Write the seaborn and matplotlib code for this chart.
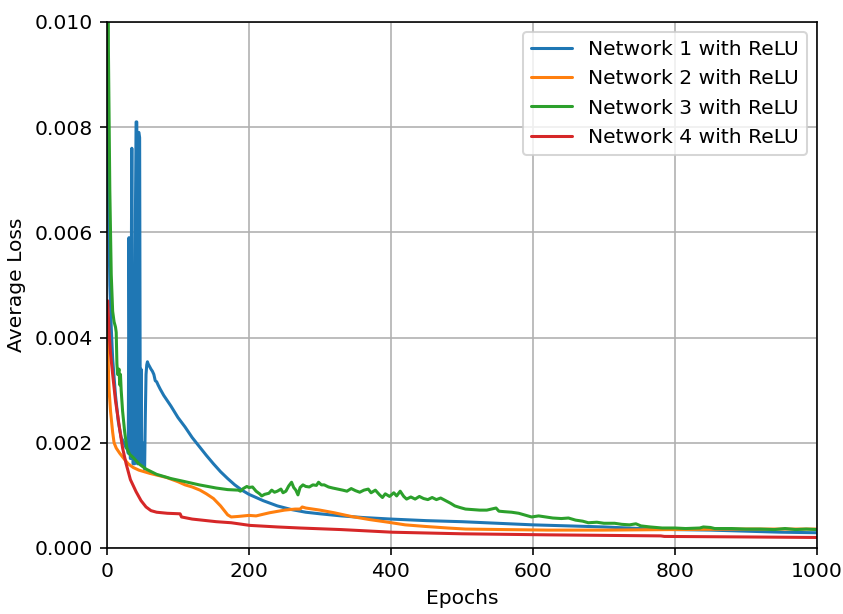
#!/usr/bin/python

import numpy as np
import matplotlib
matplotlib.use('Agg')
import matplotlib.pyplot as plt
import seaborn as sns

# ---------------------------------------------------------------- data
labels = ['Network 1 with ReLU', 'Network 2 with ReLU',
          'Network 3 with ReLU', 'Network 4 with ReLU']

net1_epochs = [0, 2, 4, 6, 8, 12, 16, 20, 24, 27, 29, 30, 31, 32, 33, 34, 35,
               36, 37, 38, 39, 40, 41, 42, 43, 44, 45, 46, 47, 48, 49, 50, 51,
               52, 53, 54, 55, 56, 57, 58, 60, 62, 64, 66, 68, 70, 72, 75, 80,
               90, 100, 110, 120, 130, 140, 150, 160, 170, 180, 190, 200, 220,
               240, 260, 280, 300, 330, 360, 400, 450, 500, 550, 600, 650, 700,
               750, 800, 850, 900, 950, 1000]
net1_loss = [0.0115, 0.0068, 0.0050, 0.0042, 0.0036, 0.0029, 0.0024, 0.0021,
             0.0020, 0.0019, 0.0019, 0.0018, 0.0059, 0.0034, 0.0017, 0.0045,
             0.0076, 0.0035, 0.0016, 0.0050, 0.0016, 0.0062, 0.0081, 0.0081,
             0.0016, 0.0079, 0.0079, 0.0078, 0.0016, 0.0034, 0.0016, 0.0020,
             0.0016, 0.0017, 0.0015, 0.0025, 0.0033, 0.00348, 0.00354, 0.0035,
             0.00345, 0.0034, 0.00336, 0.0033, 0.00318, 0.00316, 0.0031,
             0.00302, 0.0029, 0.0027, 0.00248, 0.0023, 0.0021, 0.00193,
             0.00176, 0.0016, 0.00145, 0.00132, 0.0012, 0.0011, 0.00102,
             0.0009, 0.0008, 0.00073, 0.00068, 0.00065, 0.00061, 0.00058,
             0.00055, 0.00052, 0.0005, 0.00047, 0.00044, 0.00042, 0.0004,
             0.00037, 0.00035, 0.00034, 0.00032, 0.0003, 0.00029]

net2_epochs = [0, 1, 2, 3, 5, 8, 10, 13, 18, 25, 30, 37, 45, 60, 84, 100, 110,
               120, 131, 140, 150, 160, 170, 175, 185, 200, 210, 229, 250, 265,
               272, 275, 280, 300, 320, 344, 370, 396, 420, 448, 480, 505, 560,
               621, 700, 794, 900, 1000]
net2_loss = [0.0045, 0.0040, 0.0034, 0.0030, 0.0026, 0.0022, 0.0020, 0.0019,
             0.0018, 0.00168, 0.0016, 0.00153, 0.00148, 0.00142, 0.00134,
             0.00126, 0.0012, 0.00116, 0.0011, 0.00103, 0.00094, 0.0008,
             0.00063, 0.00059, 0.0006, 0.00062, 0.00061, 0.00067, 0.00072,
             0.00074, 0.00074, 0.00078, 0.00076, 0.00072, 0.00067, 0.0006,
             0.00054, 0.00049, 0.00044, 0.00041, 0.00038, 0.00036, 0.00035,
             0.00034, 0.00034, 0.00035, 0.00036, 0.00036]

net3_epochs = [0, 2, 4, 6, 8, 10, 12, 13, 14, 15, 17, 18, 19, 20, 22, 25, 28,
               32, 37, 45, 55, 70, 90, 107, 130, 154, 170, 185, 188, 192, 197,
               200, 205, 210, 215, 218, 222, 228, 232, 236, 240, 245, 248, 252,
               256, 260, 263, 266, 269, 272, 276, 280, 285, 290, 295, 298, 302,
               306, 312, 318, 325, 332, 338, 344, 350, 356, 362, 368, 372, 378,
               384, 388, 392, 398, 404, 408, 413, 418, 422, 428, 434, 440, 446,
               452, 458, 464, 470, 477, 484, 490, 497, 505, 515, 525, 535, 548,
               552, 560, 570, 580, 590, 598, 608, 618, 628, 640, 650, 660, 670,
               678, 690, 700, 715, 725, 736, 745, 752, 765, 782, 800, 815, 835,
               840, 850, 856, 880, 900, 920, 940, 955, 970, 985, 1000]
net3_loss = [0.0200, 0.0095, 0.0068, 0.0052, 0.0045, 0.0043, 0.0042, 0.0041,
             0.0035, 0.0033, 0.0034, 0.0031, 0.0033, 0.0030, 0.0026, 0.0022,
             0.0019, 0.00178, 0.00172, 0.0016, 0.0015, 0.0014, 0.00132,
             0.00127, 0.0012, 0.00114, 0.00111, 0.0011, 0.00108, 0.00113,
             0.00117, 0.00115, 0.00116, 0.00108, 0.00103, 0.00099, 0.00102,
             0.00104, 0.0011, 0.00106, 0.00108, 0.00112, 0.00105, 0.00108,
             0.00118, 0.00125, 0.00115, 0.0011, 0.00101, 0.00115, 0.0012,
             0.00117, 0.00116, 0.0012, 0.00119, 0.00125, 0.0012, 0.0012,
             0.00116, 0.00114, 0.00112, 0.0011, 0.00108, 0.00113, 0.00109,
             0.00106, 0.0011, 0.00112, 0.00105, 0.0011, 0.00101, 0.00096,
             0.00103, 0.00098, 0.00105, 0.00099, 0.00108, 0.00098, 0.00093,
             0.00097, 0.00093, 0.00098, 0.00094, 0.00092, 0.00096, 0.00092,
             0.00095, 0.0009, 0.00085, 0.0008, 0.00077, 0.00074, 0.00073,
             0.00072, 0.00072, 0.00076, 0.0007, 0.00069, 0.00068, 0.00066,
             0.00062, 0.00059, 0.00061, 0.00059, 0.00057, 0.00056, 0.00057,
             0.00053, 0.00051, 0.00048, 0.00049, 0.00047, 0.00047, 0.00045,
             0.00044, 0.00046, 0.00042, 0.0004, 0.00038, 0.00038, 0.00037,
             0.00038, 0.0004, 0.00039, 0.00037, 0.00037, 0.00036, 0.00036,
             0.00035, 0.00037, 0.00035, 0.00036, 0.00035]

net4_epochs = [0, 1, 3, 5, 8, 12, 18, 22, 27, 33, 41, 48, 55, 62, 70, 85, 103,
               105, 120, 154, 175, 201, 240, 272, 330, 402, 500, 621, 700, 780,
               785, 900, 1000]
net4_loss = [0.0047, 0.0047, 0.0041, 0.0037, 0.0033, 0.0028, 0.00225, 0.0019,
             0.0016, 0.0013, 0.00107, 0.0009, 0.00078, 0.00071, 0.00068,
             0.00066, 0.00065, 0.00059, 0.00055, 0.0005, 0.00048, 0.00043,
             0.0004, 0.00038, 0.00035, 0.0003, 0.00027, 0.00025, 0.00024,
             0.00023, 0.00022, 0.00021, 0.0002]

series = [(net1_epochs, net1_loss), (net2_epochs, net2_loss),
          (net3_epochs, net3_loss), (net4_epochs, net4_loss)]

# ---------------------------------------------------------------- plot
sns.set_style('ticks')
plt.rcParams['font.family'] = ['DejaVu Sans']
plt.rcParams.update({'text.color': 'black', 'axes.labelcolor': 'black',
                     'xtick.color': 'black', 'ytick.color': 'black'})

DPI = 146
fig = plt.figure(figsize=(843 / DPI, 614 / DPI), dpi=DPI)
ax = fig.add_axes([0.1269, 0.1075, 0.8422, 0.8567])

colors = sns.color_palette('tab10', 4)
for (xs, ys), lab, col in zip(series, labels, colors):
    sns.lineplot(x=xs, y=ys, ax=ax, color=col, label=lab,
                 linewidth=1.5, estimator=None, sort=False)

ax.set_xlim(0, 1000)
ax.set_ylim(0, 0.010)
ax.set_yticks(np.arange(0, 0.0101, 0.002))
ax.set_yticklabels(['%.3f' % v for v in np.arange(0, 0.0101, 0.002)])
ax.set_xlabel('Epochs')
ax.set_ylabel('Average Loss')
ax.grid(True, color='#b0b0b0', linewidth=0.8)
for sp in ax.spines.values():
    sp.set_visible(True)
    sp.set_color('black')
    sp.set_linewidth(0.8)
ax.tick_params(colors='black', labelcolor='black', direction='out',
               length=3.5, width=0.8)
leg = ax.legend(loc='upper right', frameon=True)
for t in leg.get_texts():
    t.set_color('black')

fig.savefig('out.png', dpi=DPI)
